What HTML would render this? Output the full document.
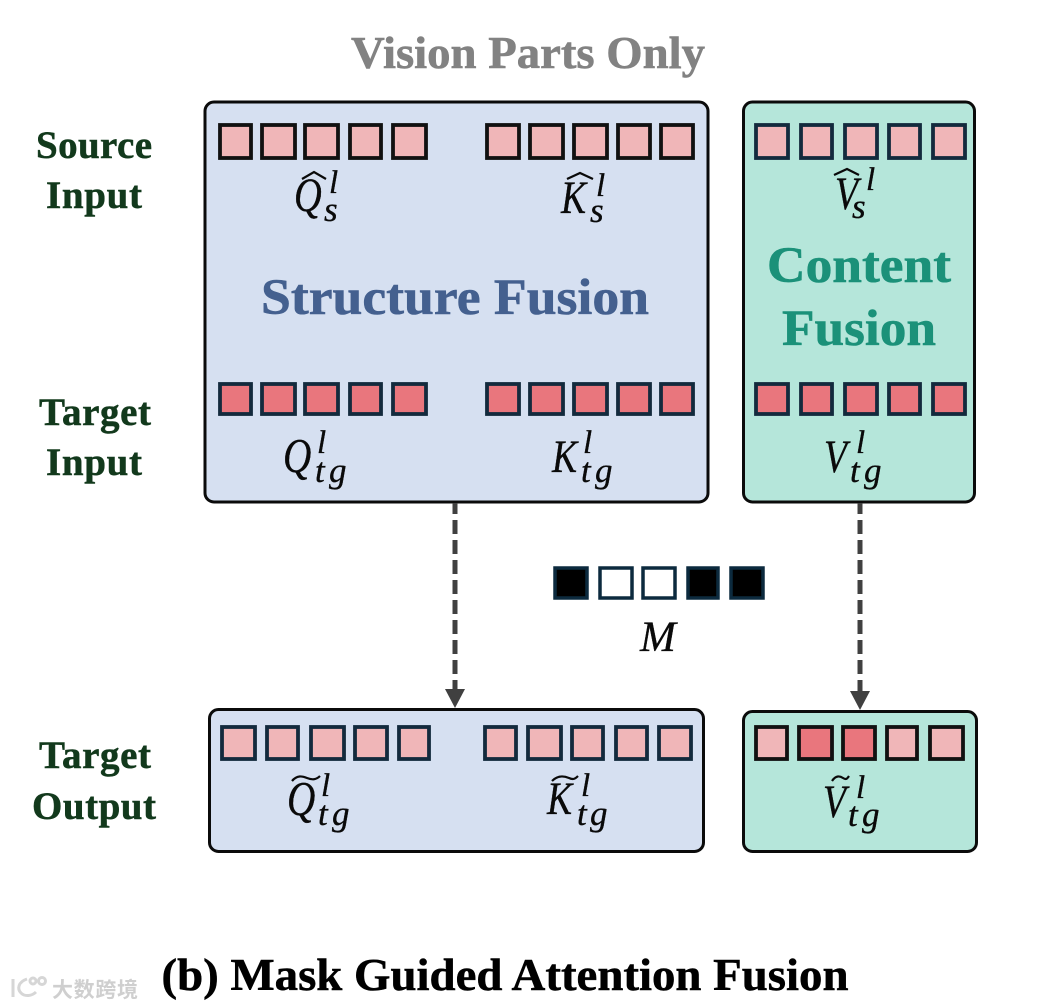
<!DOCTYPE html>
<html>
<head>
<meta charset="utf-8">
<style>
html,body{margin:0;padding:0;background:#fff;width:1056px;height:1008px;overflow:hidden}
svg{display:block}
.t{font-family:"Liberation Serif",serif;font-weight:bold}
.m{font-family:"Liberation Serif",serif;font-style:italic;fill:#0a0a0a;stroke:#0a0a0a;stroke-width:.35}
.s{stroke:#111;stroke-width:3.8}
.n{stroke:#132a3d;stroke-width:3.8}
.l{fill:#f0b6b8}
.d{fill:#e9767d}
.box{stroke:#0b0b0b;stroke-width:3}
.lab{fill:#12391c;stroke:#12391c;stroke-width:.5;font-size:39px;text-anchor:middle}
</style>
</head>
<body>
<svg width="1056" height="1008" viewBox="0 0 1056 1008" xmlns="http://www.w3.org/2000/svg">
<rect width="1056" height="1008" fill="#fff"/>

<text class="t" x="528" y="68" font-size="46" fill="#828282" stroke="#828282" stroke-width=".6" text-anchor="middle" textLength="354" lengthAdjust="spacingAndGlyphs">Vision Parts Only</text>

<rect class="box" x="205" y="102" width="503" height="400" rx="9" fill="#d6e0f1"/>
<rect class="box" x="743.500" y="102" width="231" height="400" rx="9" fill="#b5e6da"/>
<rect class="box" x="209.500" y="709.500" width="494" height="142" rx="9" fill="#d6e0f1"/>
<rect class="box" x="743.500" y="711.500" width="233" height="140" rx="9" fill="#b5e6da"/>

<!-- Row 1 -->
<g class="s l">
<rect x="220" y="125" width="31" height="33"/><rect x="262" y="125" width="33" height="33"/><rect x="305" y="125" width="33" height="33"/><rect x="350" y="125" width="31" height="33"/><rect x="393" y="125" width="33" height="33"/>
<rect x="487" y="125" width="32" height="33"/><rect x="530" y="125" width="33" height="33"/><rect x="574" y="125" width="33" height="33"/><rect x="618" y="125" width="32" height="33"/><rect x="661" y="125" width="32" height="33"/>
</g>
<g class="n l">
<rect x="756" y="125" width="32" height="33"/><rect x="801" y="125" width="31" height="33"/><rect x="845" y="125" width="32" height="33"/><rect x="889" y="125" width="31" height="33"/><rect x="933" y="125" width="32" height="33"/>
</g>
<!-- Row 2 -->
<g class="n d">
<rect x="220" y="384" width="31" height="30"/><rect x="262" y="384" width="33" height="30"/><rect x="305" y="384" width="33" height="30"/><rect x="350" y="384" width="31" height="30"/><rect x="393" y="384" width="33" height="30"/>
<rect x="487" y="384" width="32" height="30"/><rect x="530" y="384" width="33" height="30"/><rect x="574" y="384" width="33" height="30"/><rect x="618" y="384" width="32" height="30"/><rect x="661" y="384" width="32" height="30"/>
<rect x="756" y="384" width="32" height="30"/><rect x="801" y="384" width="31" height="30"/><rect x="845" y="384" width="32" height="30"/><rect x="889" y="384" width="31" height="30"/><rect x="933" y="384" width="32" height="30"/>
</g>
<!-- Row 3 -->
<g class="n l">
<rect x="222" y="727" width="33" height="32"/><rect x="267" y="727" width="31" height="32"/><rect x="311" y="727" width="33" height="32"/><rect x="355" y="727" width="32" height="32"/><rect x="399" y="727" width="30" height="32"/>
<rect x="485" y="727" width="31" height="32"/><rect x="528" y="727" width="33" height="32"/><rect x="572" y="727" width="31" height="32"/><rect x="616" y="727" width="31" height="32"/><rect x="659" y="727" width="32" height="32"/>
</g>
<g class="s l">
<rect x="756" y="727" width="31" height="32"/><rect x="799" y="727" width="33" height="32" style="fill:#e9767d"/><rect x="843" y="727" width="32" height="32" style="fill:#e9767d"/><rect x="887" y="727" width="30" height="32"/><rect x="930" y="727" width="33" height="32"/>
</g>
<!-- Mask -->
<g stroke="#0c2a3e" stroke-width="3.500">
<rect x="555" y="568" width="32" height="30" fill="#000"/><rect x="600" y="568" width="32" height="30" fill="#fff"/><rect x="643" y="568" width="32" height="30" fill="#fff"/><rect x="688" y="568" width="30" height="30" fill="#000"/><rect x="731" y="568" width="32" height="30" fill="#000"/>
</g>

<!-- Arrows -->
<g stroke="#404040" stroke-width="5" stroke-dasharray="14 6" stroke-dashoffset="3" fill="none">
<line x1="455" y1="503" x2="455" y2="690"/>
<line x1="860" y1="503" x2="860" y2="692"/>
</g>
<polygon points="445,689 465,689 455,708" fill="#404040"/>
<polygon points="850,691 870,691 860,710" fill="#404040"/>

<!-- Side labels -->
<g class="t lab">
<text x="94" y="158" textLength="116" lengthAdjust="spacing">Source</text>
<text x="94" y="208" textLength="96" lengthAdjust="spacing">Input</text>
<text x="95" y="425" textLength="112" lengthAdjust="spacing">Target</text>
<text x="94" y="475" textLength="96" lengthAdjust="spacing">Input</text>
<text x="95" y="768" textLength="112" lengthAdjust="spacing">Target</text>
<text x="94" y="819" textLength="124" lengthAdjust="spacing">Output</text>
</g>

<text class="t" x="455" y="314" font-size="51" fill="#44608f" stroke="#44608f" stroke-width=".6" text-anchor="middle" textLength="388" lengthAdjust="spacingAndGlyphs">Structure Fusion</text>
<text class="t" x="859" y="282" font-size="51" fill="#1b9179" stroke="#1b9179" stroke-width=".6" text-anchor="middle" textLength="184" lengthAdjust="spacingAndGlyphs">Content</text>
<text class="t" x="859" y="345" font-size="51" fill="#1b9179" stroke="#1b9179" stroke-width=".6" text-anchor="middle" textLength="154" lengthAdjust="spacingAndGlyphs">Fusion</text>

<!-- Math -->
<g class="m">
<!-- Q hat s -->
<text transform="translate(294 211) scale(.8 1)" font-size="48">Q</text>
<text x="329" y="193" font-size="33">l</text>
<text x="324" y="221" font-size="35">s</text>
<!-- K hat s -->
<text transform="translate(561 213) scale(.8 1)" font-size="47">K</text>
<text x="596" y="196" font-size="33">l</text>
<text x="590" y="222" font-size="35">s</text>
<!-- V hat s -->
<text transform="translate(835 209) scale(.8 1)" font-size="47">V</text>
<text x="866" y="190" font-size="33">l</text>
<text x="852" y="218" font-size="35">s</text>

<!-- Q tg -->
<text transform="translate(283 472) scale(.8 1)" font-size="49">Q</text>
<text x="317" y="453" font-size="33">l</text>
<text x="315 329" y="482" font-size="35">tg</text>
<!-- K tg -->
<text transform="translate(552 472) scale(.8 1)" font-size="47">K</text>
<text x="583" y="453" font-size="33">l</text>
<text x="581 595" y="482" font-size="35">tg</text>
<!-- V tg -->
<text transform="translate(824 472) scale(.8 1)" font-size="47">V</text>
<text x="856" y="453" font-size="33">l</text>
<text x="850 864" y="482" font-size="35">tg</text>

<!-- Q tilde tg -->
<text transform="translate(287 815) scale(.8 1)" font-size="49">Q</text>
<text x="321" y="796" font-size="33">l</text>
<text x="318 332" y="825" font-size="35">tg</text>
<!-- K tilde tg -->
<text transform="translate(547 814) scale(.8 1)" font-size="47">K</text>
<text x="581" y="796" font-size="33">l</text>
<text x="577 590" y="825" font-size="35">tg</text>
<!-- V tilde tg -->
<text transform="translate(823 817) scale(.8 1)" font-size="47">V</text>
<text x="856" y="798" font-size="33">l</text>
<text x="848 862" y="826" font-size="35">tg</text>

<text x="640" y="651" font-size="43">M</text>
</g>

<!-- Accents -->
<g fill="none" stroke="#0a0a0a" stroke-width="2.200">
<path d="M302 179 L314 172 L326 179"/>
<path d="M567 179 L580 173 L593 179"/>
<path d="M834 175 L847 169 L859 175"/>
<path d="M292 781 C297 775 302 776 307 778 C312 780 316 780 320 776"/>
<path d="M552 781 C558 775 564 776 569 778 C573 780 575 779 578 776"/>
<path d="M832 781 C836 775 840 776 843 778 C846 780 847 779 849 776"/>
</g>

<!-- Caption -->
<text class="t" x="505" y="990" font-size="45" fill="#000" stroke="#000" stroke-width=".5" text-anchor="middle" textLength="687" lengthAdjust="spacingAndGlyphs">(b) Mask Guided Attention Fusion</text>

<!-- Watermark -->
<g fill="none" stroke="#d6d6d6" stroke-width="3">
<path d="M13 979 L13 997"/>
<path d="M27 979 C18 982 17 989 21 993 C25 997 32 996 36 992"/>
<circle cx="33" cy="981" r="3"/>
<circle cx="42" cy="981" r="3.500"/>
</g>
<text x="52" y="997" font-size="21" fill="#cfcfcf" font-weight="bold" font-family="'Noto Sans CJK SC',sans-serif" textLength="86">大数跨境</text>
</svg>
</body>
</html>
